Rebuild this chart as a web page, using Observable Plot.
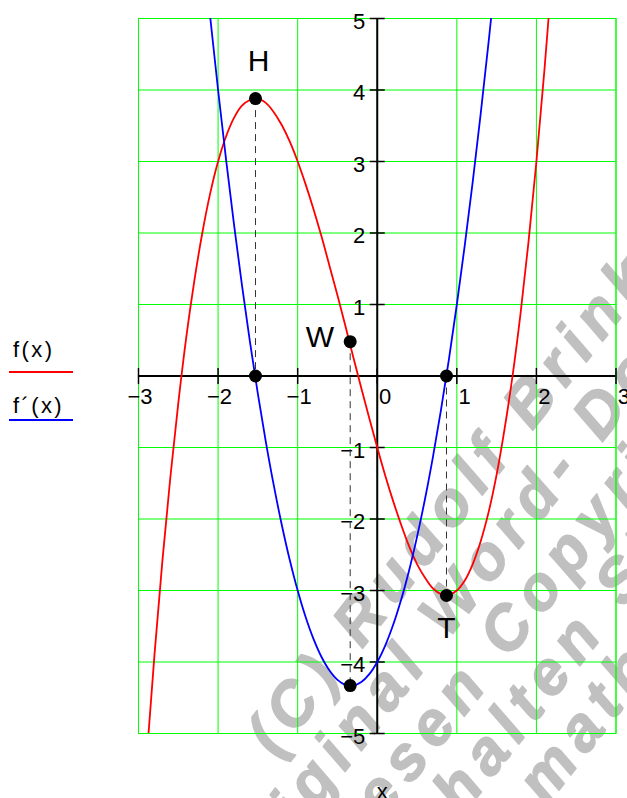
<!DOCTYPE html>
<html><head><meta charset="utf-8">
<script src="https://cdn.jsdelivr.net/npm/d3@7"></script>
<script src="https://cdn.jsdelivr.net/npm/@observablehq/plot@0.6"></script>
<style>
html,body{margin:0;padding:0;background:#fff;}
#wrap{position:relative;width:627px;height:798px;overflow:hidden;font-family:Arial,"Liberation Sans",sans-serif;}
#wrap > svg{position:absolute;left:0;top:0;}
</style></head><body><div id="wrap"></div>
<script>
// f(x) samples
const fX = [-3.0,-2.9,-2.8,-2.7,-2.6,-2.5,-2.4,-2.3,-2.2,-2.1,-2.0,-1.9,-1.8,-1.7,-1.6,-1.5,-1.4,-1.3,-1.2,-1.1,-1.0,-0.9,-0.8,-0.7,-0.6,-0.5,-0.4,-0.3,-0.2,-0.1,0.0,0.1,0.2,0.3,0.4,0.5,0.6,0.7,0.8,0.9,1.0,1.1,1.2,1.3,1.4,1.5,1.6,1.7,1.8,1.9,2.0,2.1,2.2];
const fY = [-7.00,-5.38,-3.91,-2.59,-1.42,-0.38,0.54,1.32,1.99,2.55,3.00,3.35,3.61,3.78,3.86,3.88,3.82,3.69,3.51,3.28,3.00,2.68,2.33,1.95,1.54,1.13,0.70,0.26,-0.17,-0.59,-1.00,-1.39,-1.75,-2.08,-2.38,-2.63,-2.82,-2.97,-3.05,-3.06,-3.00,-2.86,-2.63,-2.31,-1.90,-1.38,-0.74,0.00,0.87,1.87,3.00,4.27,5.69];
// f'(x) samples
const dX = [-2.3,-2.2,-2.1,-2.0,-1.9,-1.8,-1.7,-1.6,-1.5,-1.4,-1.3,-1.2,-1.1,-1.0,-0.9,-0.8,-0.7,-0.6,-0.5,-0.4,-0.3,-0.2,-0.1,0.0,0.1,0.2,0.3,0.4,0.5,0.6,0.7,0.8,0.9,1.0,1.1,1.2,1.3,1.4,1.5];
const dY = [7.27,6.12,5.03,4.00,3.03,2.12,1.27,0.48,-0.25,-0.92,-1.53,-2.08,-2.57,-3.00,-3.37,-3.68,-3.93,-4.12,-4.25,-4.32,-4.33,-4.28,-4.17,-4.00,-3.77,-3.48,-3.13,-2.72,-2.25,-1.72,-1.13,-0.48,0.23,1.00,1.83,2.72,3.67,4.68,5.75];
// marked points: H, zero of f', W, min of f', zero of f', T
const keyX = [-1.53, -1.53, -0.34, -0.34, 0.87, 0.87];
const keyY = [3.88, 0, 0.48, -4.33, 0, -3.07];
const keyLabel = ["H", "", "W", "", "", "T"];
const dropPairs = [[0, 1], [2, 3], [4, 5]];
const xTicks = [-3, -2, -1, 0, 1, 2, 3];
const xTickLabels = ["−3", "−2", "−1", "0", "1", "2", "3"];
const yTicks = [5, 4, 3, 2, 1, -1, -2, -3, -4, -5];
const yTickLabels = ["5", "4", "3", "2", "1", "−1", "−2", "−3", "−4", "−5"];
const seriesNames = ["f(x)", "f´(x)"];
const seriesColors = ["#ff0000", "#0000ff"];
const axisLabel = "x";
const watermarkLines = ["(C) Rudolf Brinkmann", "Original Word- Dokumente", "Diesen Copyright-Vermerk", "erhalten Sie bei", "mathe-brinkmann.de"];

const fData = fX.map((x, i) => ({x, y: fY[i]}));
const dData = dX.map((x, i) => ({x, y: dY[i]}));
const keys = keyX.map((x, i) => ({x, y: keyY[i], label: keyLabel[i]}));
const drops = dropPairs.map(([a, b]) => ({x: keyX[a], y1: keyY[a], y2: keyY[b]}));

const FONT = "Arial, 'Liberation Sans', sans-serif";
const wrap = document.getElementById("wrap");

// background layer: watermark + legend
const bg = d3.create("svg").attr("width", 627).attr("height", 798).style("font-family", FONT);
const wm = bg.append("g").attr("transform", "rotate(-52)")
  .attr("fill", "#c0c0c0").attr("stroke", "#c0c0c0").attr("stroke-width", 1.5)
  .attr("stroke-linejoin", "round")
  .attr("font-weight", "bold").attr("font-style", "italic")
  .attr("font-size", 62).attr("letter-spacing", 9);
const wmPos = [[-428, 685], [-560, 747], [-490, 807], [-435, 867], [-299, 927]];
watermarkLines.forEach((t, i) => wm.append("text").attr("x", wmPos[i][0]).attr("y", wmPos[i][1]).text(t));
const legPos = [[357, 372], [413, 420]];
seriesNames.forEach((n, i) => {
  bg.append("text").attr("x", 13).attr("y", legPos[i][0]).attr("font-size", 22)
    .attr("letter-spacing", 2.4).attr("fill", "#000").text(n);
  bg.append("line").attr("x1", 9).attr("x2", 73).attr("y1", legPos[i][1]).attr("y2", legPos[i][1])
    .attr("stroke", seriesColors[i]).attr("stroke-width", 2);
});
wrap.appendChild(bg.node());

const vtick = {draw(ctx) { ctx.moveTo(0, -8); ctx.lineTo(0, 8); }};
const htick = {draw(ctx) { ctx.moveTo(-7.5, 0); ctx.lineTo(7.5, 0); }};
const GREEN = "#00ff00";

const chart = Plot.plot({
  width: 627,
  height: 798,
  marginLeft: 138,
  marginRight: 11.5,
  marginTop: 18,
  marginBottom: 65,
  style: {background: "transparent", fontFamily: FONT, overflow: "visible"},
  x: {domain: [-3, 3], axis: null},
  y: {domain: [-5, 5], axis: null},
  marks: [
    Plot.gridX(xTicks, {stroke: GREEN, strokeOpacity: 1, strokeWidth: 1}),
    Plot.gridY(yTicks, {stroke: GREEN, strokeOpacity: 1, strokeWidth: 1}),
    Plot.frame({stroke: GREEN, strokeWidth: 1}),
    Plot.ruleY([0], {stroke: "#000", strokeWidth: 2}),
    Plot.ruleX([0], {stroke: "#000", strokeWidth: 2}),
    Plot.dot(xTicks, {x: d => d, y: 0, symbol: vtick, stroke: "#000", strokeWidth: 1.5, fill: "none"}),
    Plot.dot(yTicks, {x: 0, y: d => d, symbol: htick, stroke: "#000", strokeWidth: 1.5, fill: "none"}),
    Plot.text(xTicks, {x: d => d, y: 0, text: (d, i) => xTickLabels[i], textAnchor: "end", dx: 14, dy: 21, fontSize: 22, fill: "#000"}),
    Plot.text(yTicks, {x: 0, y: d => d, text: (d, i) => yTickLabels[i], textAnchor: "end", dx: -12, dy: 3, fontSize: 22, fill: "#000"}),
    Plot.line(fData, {x: "x", y: "y", stroke: seriesColors[0], strokeWidth: 1.8, curve: "catmull-rom", clip: true}),
    Plot.line(dData, {x: "x", y: "y", stroke: seriesColors[1], strokeWidth: 1.8, curve: "catmull-rom", clip: true}),
    Plot.ruleX(drops, {x: "x", y1: "y1", y2: "y2", stroke: "#333", strokeWidth: 1, strokeDasharray: "7,5"}),
    Plot.dot(keys, {x: "x", y: "y", r: 6.5, fill: "#000", stroke: "none"}),
    Plot.text(keys.filter(d => d.label === "H"), {x: "x", y: "y", text: "label", fontSize: 30, lineAnchor: "bottom", dx: 3, dy: -28, fill: "#000"}),
    Plot.text(keys.filter(d => d.label === "W"), {x: "x", y: "y", text: "label", fontSize: 30, lineAnchor: "bottom", textAnchor: "end", dx: -16, dy: 5, fill: "#000"}),
    Plot.text(keys.filter(d => d.label === "T"), {x: "x", y: "y", text: "label", fontSize: 30, lineAnchor: "top", dy: 21, fill: "#000"}),
    Plot.text([axisLabel], {text: d => d, frameAnchor: "bottom", lineAnchor: "bottom", dx: 5, dy: 65, fontSize: 22, fill: "#000"})
  ]
});
wrap.appendChild(chart);
</script></body></html>
